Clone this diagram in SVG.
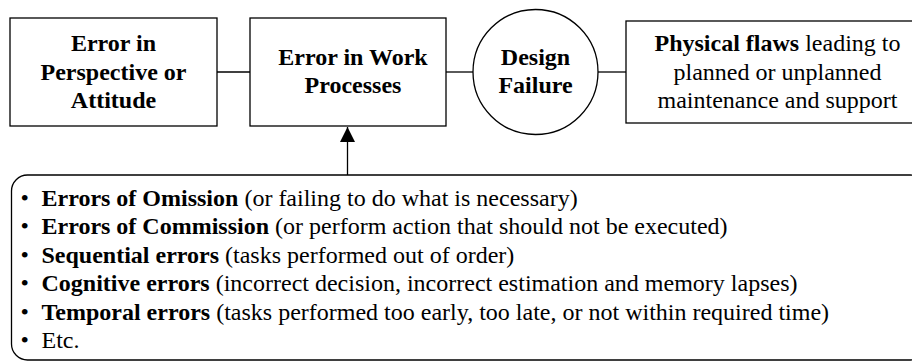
<svg xmlns="http://www.w3.org/2000/svg" width="912" height="363" viewBox="0 0 912 363">
<defs>
<style>
.box{fill:#fff;stroke:#000;stroke-width:1.3}
.ln{stroke:#000;stroke-width:1.3;fill:none}
.t{font-family:"Liberation Serif","Times New Roman",serif;font-size:24px;fill:#000}
.b{font-weight:bold}
.c{text-anchor:middle}
.l{font-family:"Liberation Serif","Times New Roman",serif;font-size:24px;fill:#000}
</style>
<marker id="ah" markerWidth="16" markerHeight="16" refX="15" refY="7.5" orient="auto" markerUnits="userSpaceOnUse">
<path d="M0,0 L15,7.5 L0,15 Z" fill="#000"/>
</marker>
</defs>
<g id="connectors">
<line class="ln" x1="217" y1="72" x2="250" y2="72"/>
<line class="ln" x1="446" y1="72" x2="473" y2="72"/>
<line class="ln" x1="598" y1="72" x2="626" y2="72"/>
<line class="ln" x1="347.5" y1="175" x2="347.5" y2="127" marker-end="url(#ah)"/>
</g>
<g id="n1">
<rect class="box" x="10" y="18" width="207" height="108"/>
<text class="t b c" x="113.5" y="51">Error in</text>
<text class="t b c" x="113.5" y="79.5">Perspective or</text>
<text class="t b c" x="113.5" y="108">Attitude</text>
</g>
<g id="n2">
<rect class="box" x="250" y="18" width="196" height="108"/>
<text class="t b c" x="353" y="65">Error in Work</text>
<text class="t b c" x="353" y="93">Processes</text>
</g>
<g id="n3">
<circle class="box" cx="535.5" cy="72" r="62.5"/>
<text class="t b c" x="535.5" y="65">Design</text>
<text class="t b c" x="535.5" y="93">Failure</text>
</g>
<g id="n4">
<rect class="box" x="626" y="21" width="304" height="102"/>
<text class="t c" x="777.5" y="51"><tspan class="b">Physical flaws</tspan> leading to</text>
<text class="t c" x="777.5" y="79.5">planned or unplanned</text>
<text class="t c" x="777.5" y="108">maintenance and support</text>
</g>
<g id="list">
<rect class="box" x="11.5" y="175" width="915" height="185" rx="16" ry="16"/>
<text class="l" x="20.5" y="205.5">•</text><text class="l" x="41.5" y="205.5"><tspan class="b">Errors of Omission</tspan> (or failing to do what is necessary)</text>
<text class="l" x="20.5" y="234">•</text><text class="l" x="41.5" y="234"><tspan class="b">Errors of Commission</tspan> (or perform action that should not be executed)</text>
<text class="l" x="20.5" y="262.5">•</text><text class="l" x="41.5" y="262.5"><tspan class="b">Sequential errors</tspan> (tasks performed out of order)</text>
<text class="l" x="20.5" y="291">•</text><text class="l" x="41.5" y="291"><tspan class="b">Cognitive errors</tspan> (incorrect decision, incorrect estimation and memory lapses)</text>
<text class="l" x="20.5" y="319.5">•</text><text class="l" x="41.5" y="319.5"><tspan class="b">Temporal errors</tspan> (tasks performed too early, too late, or not within required time)</text>
<text class="l" x="20.5" y="348">•</text><text class="l" x="41.5" y="348">Etc.</text>
</g>
</svg>
